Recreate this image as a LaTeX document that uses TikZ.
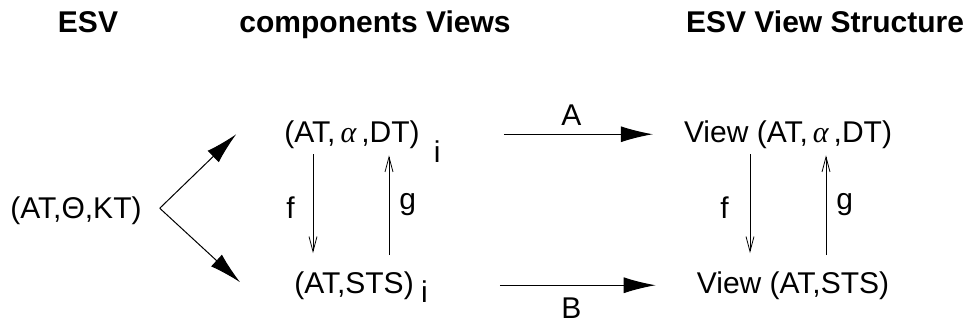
\documentclass[tikz,border=0pt]{standalone}
\usepackage{fontspec}
\setmainfont{Liberation Sans}
\newfontfamily\greekfont{Liberation Serif}
\newcommand{\alf}{{\greekfont\itshape α}}
\usepackage{tikz}
\usetikzlibrary{arrows.meta,positioning}
\tikzstyle{term} = [inner sep=0pt, anchor=base, font=\fontsize{30}{36}\selectfont]
\tikzstyle{heading} = [term, font=\fontsize{30}{36}\selectfont\bfseries]
\tikzstyle{tag} = [inner sep=0pt, font=\fontsize{30}{36}\selectfont]
\tikzstyle{forkarrow} = [line width=1pt, -{Latex[length=32pt,width=16pt]}]
\tikzstyle{maparrow} = [line width=0.8pt, -{Straight Barb[length=15pt,width=8pt]}]

\begin{document}
\begin{tikzpicture}[x=1pt, y=-1pt]
\useasboundingbox (0,0) rectangle (968,324);

% column headings
\node[heading] (hesv) at (88,32) {ESV};
\node[heading] (hcomp) at (375,32) {components Views};
\node[heading] (hview) at (825,32) {ESV View Structure};

% terms
\node[term] (esv) at (76,218) {(AT,Θ,KT)};
\node[term] (cva) at (352,142) {(AT,\,\alf\,,DT)};
\node[term] (cvb) at (354,293) {(AT,STS)};
\node[term, anchor=base west] (ia) at ([xshift=14pt,yshift=-20pt]cva.base east) {i};
\node[term, anchor=base west] (ib) at ([xshift=7pt,yshift=-9pt]cvb.base east) {i};
\node[term] (va) at (788,142) {View (AT,\,\alf\,,DT)};
\node[term] (vb) at (793,293) {View (AT,STS)};

% split of the ESV
\coordinate (vertex) at ([xshift=18pt,yshift=2pt]esv.east);
\draw[forkarrow] (vertex) -- ([xshift=-48pt]cva.west);
\draw[forkarrow] (vertex) -- ([xshift=-54pt,yshift=3pt]cvb.west);

% f and g
\draw[maparrow, shorten <=6pt, shorten >=18pt] ([xshift=-39pt]cva.south) -- ([xshift=-41pt]cvb.north)
  node[pos=0.48, left=18pt, tag] {f};
\draw[maparrow, shorten <=16pt, shorten >=7pt] ([xshift=35pt]cvb.north) -- ([xshift=37pt]cva.south)
  node[pos=0.54, right=10pt, tag] {g};
\draw[maparrow, shorten <=6pt, shorten >=18pt] ([xshift=-38pt]va.south) -- ([xshift=-43pt]vb.north)
  node[pos=0.48, left=21pt, tag] {f};
\draw[maparrow, shorten <=16pt, shorten >=7pt] ([xshift=33pt]vb.north) -- ([xshift=38pt]va.south)
  node[pos=0.54, right=10pt, tag] {g};

% A and B
\draw[forkarrow, shorten <=84pt, shorten >=31pt] (cva.east) -- (va.west)
  node[pos=0.574, above=8pt, tag] {A};
\draw[forkarrow, shorten <=86pt, shorten >=41pt] (cvb.east) -- (vb.west)
  node[pos=0.557, below=12pt, tag] {B};
\end{tikzpicture}
\end{document}
